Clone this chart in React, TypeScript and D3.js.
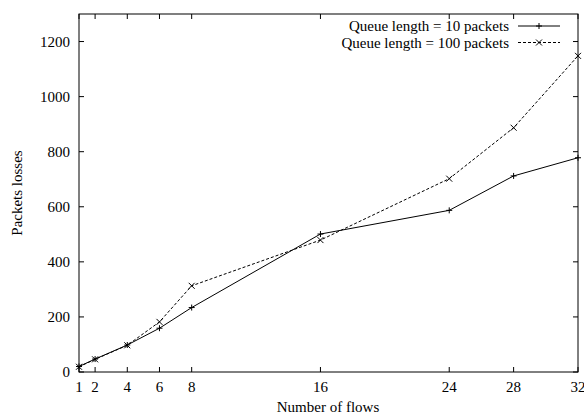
import React from "react";
import * as d3 from "d3";

const flows = [1, 2, 4, 6, 8, 16, 24, 28, 32];
const queue10 = [20, 47, 98, 159, 234, 501, 587, 712, 778];
const queue100 = [19, 46, 97, 182, 313, 479, 702, 887, 1148];
const xTicks = [1, 2, 4, 6, 8, 16, 24, 28, 32];
const yTicks = [0, 200, 400, 600, 800, 1000, 1200];
const seriesNames = ["Queue length = 10 packets", "Queue length = 100 packets"];

const W = 584, H = 418;
const M = { left: 79, right: 578, top: 14, bottom: 372 };
const FONT = "'Liberation Serif', 'Times New Roman', serif";
const FS = 15;

export default function App() {
  const x = d3.scaleLinear().domain([1, 32]).range([M.left, M.right]);
  const y = d3.scaleLinear().domain([0, 1300]).range([M.bottom, M.top]);
  const line = d3.line<[number, number]>().x(d => x(d[0])).y(d => y(d[1]));
  const d10 = flows.map((f, i) => [f, queue10[i]] as [number, number]);
  const d100 = flows.map((f, i) => [f, queue100[i]] as [number, number]);
  const plus = (cx: number, cy: number, k: string) => (
    <path key={k} d={`M${cx - 3},${cy}H${cx + 3}M${cx},${cy - 3}V${cy + 3}`} stroke="#000" strokeWidth={1} />
  );
  const cross = (cx: number, cy: number, k: string) => (
    <path key={k} d={`M${cx - 3},${cy - 3}L${cx + 3},${cy + 3}M${cx - 3},${cy + 3}L${cx + 3},${cy - 3}`} stroke="#000" strokeWidth={1} />
  );
  const tl = 5;
  return (
    <svg width={W} height={H} style={{ position: "absolute", left: 0, top: 0, background: "#fff" }} fontFamily={FONT}>
      <rect x={0} y={0} width={W} height={H} fill="#fff" />
      {xTicks.map(t => (
        <g key={"xt" + t}>
          <line x1={x(t)} x2={x(t)} y1={M.bottom} y2={M.bottom - tl} stroke="#000" />
          <line x1={x(t)} x2={x(t)} y1={M.top} y2={M.top + tl} stroke="#000" />
          <text x={x(t)} y={392} textAnchor="middle" fontSize={FS} fill="#000">{t}</text>
        </g>
      ))}
      {yTicks.map(t => (
        <g key={"yt" + t}>
          <line x1={M.left} x2={M.left + tl} y1={y(t)} y2={y(t)} stroke="#000" />
          <line x1={M.right} x2={M.right - tl} y1={y(t)} y2={y(t)} stroke="#000" />
          <text x={M.left - 9} y={y(t) + 5} textAnchor="end" fontSize={FS} fill="#000">{t}</text>
        </g>
      ))}
      <rect x={M.left} y={M.top} width={M.right - M.left} height={M.bottom - M.top} fill="none" stroke="#000" strokeWidth={1} />
      <path d={line(d10) || ""} fill="none" stroke="#000" strokeWidth={1} />
      <path d={line(d100) || ""} fill="none" stroke="#000" strokeWidth={1} strokeDasharray="3,2" />
      {d10.map((p, i) => plus(x(p[0]), y(p[1]), "p" + i))}
      {d100.map((p, i) => cross(x(p[0]), y(p[1]), "c" + i))}
      <text x={509} y={31} textAnchor="end" fontSize={FS} fill="#000">{seriesNames[0]}</text>
      <line x1={518} x2={560} y1={26} y2={26} stroke="#000" />
      {plus(539, 26, "lp")}
      <text x={509} y={47.5} textAnchor="end" fontSize={FS} fill="#000">{seriesNames[1]}</text>
      <line x1={518} x2={560} y1={42.5} y2={42.5} stroke="#000" strokeDasharray="3,2" />
      {cross(539, 42.5, "lc")}
      <text x={328} y={412} textAnchor="middle" fontSize={FS} fill="#000">Number of flows</text>
      <text transform={`translate(22,${(M.top + M.bottom) / 2}) rotate(-90)`} textAnchor="middle" fontSize={FS} fill="#000">Packets losses</text>
    </svg>
  );
}
